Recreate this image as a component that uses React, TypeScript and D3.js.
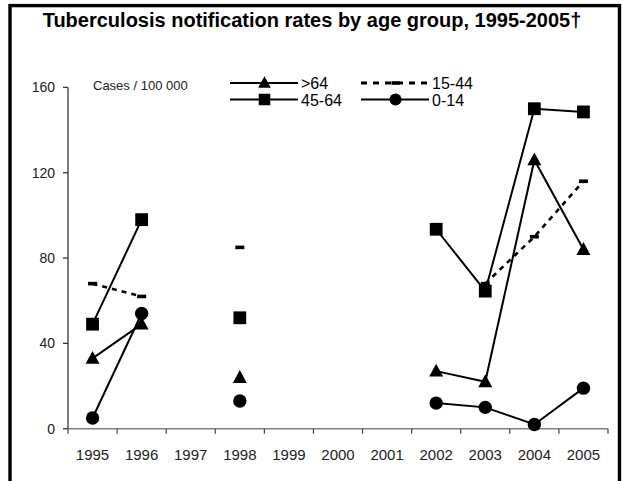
import React from 'react';
import * as d3 from 'd3';

const years = ['1995', '1996', '1997', '1998', '1999', '2000', '2001', '2002', '2003', '2004', '2005'];
const over64 = [33, 49, null, 24, null, null, null, 27, 22, 126, 84];
const age45to64 = [49, 98, null, 52, null, null, null, 93.5, 64.5, 150, 148.5];
const age15to44 = [68, 62, null, 85, null, null, null, null, 68, 90, 116];
const age0to14 = [5, 54, null, 13, null, null, null, 12, 10, 2, 19];
const yTicks = [0, 40, 80, 120, 160];

const FONT = '"Liberation Sans", Arial, sans-serif';

type V = number | null;

function Marker({ kind, cx, cy, s = 1 }: { kind: string; cx: number; cy: number; s?: number }) {
  if (kind === 'square') {
    const h = 6.4 * s;
    return <rect x={cx - h} y={cy - h} width={2 * h} height={2 * h} fill="#000" />;
  }
  if (kind === 'circle') {
    return <circle cx={cx} cy={cy} r={6.7 * s} fill="#000" />;
  }
  if (kind === 'triangle') {
    const p = [
      [cx, cy - 7.4 * s],
      [cx + 7 * s, cy + 5.4 * s],
      [cx - 7 * s, cy + 5.4 * s],
    ];
    return <path d={`M${p[0]}L${p[1]}L${p[2]}Z`} fill="#000" />;
  }
  // dash
  return <rect x={cx - 4.5 * s} y={cy - 1.8} width={9 * s} height={3.6} fill="#000" />;
}

export default function App() {
  const x = d3.scaleBand<string>().domain(years).range([68, 608]).paddingInner(0).paddingOuter(0);
  const y = d3.scaleLinear().domain([0, 160]).range([428.7, 87.4]);
  const cx = (yr: string) => (x(yr) as number) + x.bandwidth() / 2;

  const series = [
    { name: '15-44', values: age15to44, marker: 'dash', dash: '5,5', width: 2.6 },
    { name: '0-14', values: age0to14, marker: 'circle', dash: undefined, width: 2 },
    { name: '>64', values: over64, marker: 'triangle', dash: undefined, width: 2 },
    { name: '45-64', values: age45to64, marker: 'square', dash: undefined, width: 2 },
  ];

  const line = d3
    .line<V>()
    .defined((d) => d != null)
    .x((_, i) => cx(years[i]))
    .y((d) => y(d as number));

  const boundaries = years.map((yr) => x(yr) as number).concat([x.range()[1]]);

  const legend = [
    { name: '>64', marker: 'triangle', dash: undefined, lx: 230, ly: 83 },
    { name: '45-64', marker: 'square', dash: undefined, lx: 230, ly: 99.5 },
    { name: '15-44', marker: 'dash', dash: '6,6', lx: 361, ly: 83 },
    { name: '0-14', marker: 'circle', dash: undefined, lx: 361, ly: 99.5 },
  ];

  return (
    <svg
      width={622}
      height={481}
      style={{ position: 'absolute', left: 0, top: 0, background: '#fff' }}
      fontFamily={FONT}
    >
      <rect x={0} y={0} width={622} height={481} fill="#fff" />
      <rect x={10} y={5.6} width={609.5} height={600} fill="none" stroke="#000" strokeWidth={3.4} />
      <text x={312} y={27} textAnchor="middle" fontSize={20} fontWeight="bold" fill="#000">
        Tuberculosis notification rates by age group, 1995-2005†
      </text>

      {/* y axis */}
      <line x1={68} x2={68} y1={y(160)} y2={y(0)} stroke="#333" strokeWidth={1.3} />
      {yTicks.map((t) => (
        <g key={t}>
          <line x1={63} x2={68} y1={y(t)} y2={y(t)} stroke="#333" strokeWidth={1.3} />
          <text x={55} y={y(t) + 5} textAnchor="end" fontSize={14} fill="#222">
            {t}
          </text>
        </g>
      ))}

      {/* x axis */}
      <line x1={68} x2={608} y1={y(0)} y2={y(0)} stroke="#808080" strokeWidth={1.5} />
      {boundaries.map((b, i) => (
        <line key={i} x1={b} x2={b} y1={y(0)} y2={y(0) + 5} stroke="#444" strokeWidth={1.2} />
      ))}
      {years.map((yr) => (
        <text key={yr} x={cx(yr)} y={460} textAnchor="middle" fontSize={15} fill="#222">
          {yr}
        </text>
      ))}

      <text x={93} y={90} fontSize={13} fill="#222">
        Cases / 100 000
      </text>

      {/* series */}
      {series.map((s) => (
        <g key={s.name}>
          <path
            d={line(s.values as V[]) || ''}
            fill="none"
            stroke="#000"
            strokeWidth={s.width}
            strokeDasharray={s.dash}
          />
          {s.values.map((v, i) =>
            v == null ? null : <Marker key={i} kind={s.marker} cx={cx(years[i])} cy={y(v)} />
          )}
        </g>
      ))}

      {/* legend */}
      {legend.map((l) => (
        <g key={l.name}>
          <line
            x1={l.lx}
            x2={l.lx + 68}
            y1={l.ly}
            y2={l.ly}
            stroke="#000"
            strokeWidth={l.dash ? 3 : 2}
            strokeDasharray={l.dash}
          />
          <Marker kind={l.marker} cx={l.lx + 34.5} cy={l.ly} s={0.9} />
          <text x={l.lx + 71} y={l.ly + 6} fontSize={16} fill="#000">
            {l.name}
          </text>
        </g>
      ))}
    </svg>
  );
}
